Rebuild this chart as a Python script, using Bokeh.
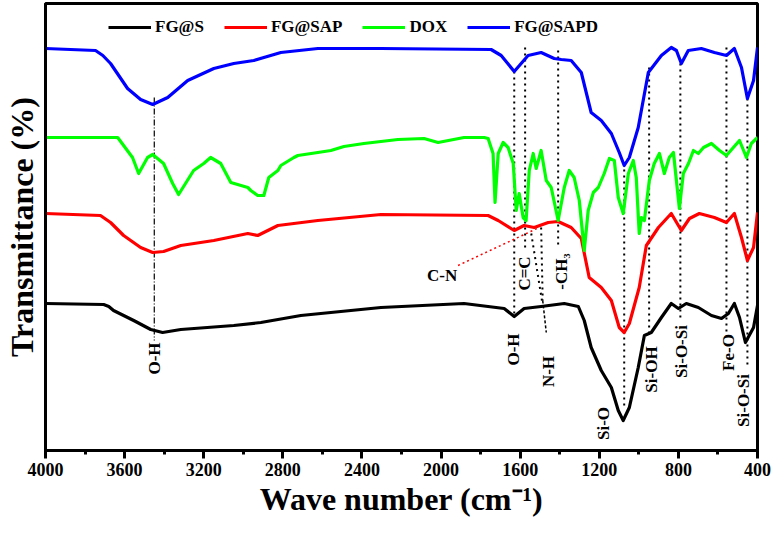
import math
from bokeh.plotting import figure
from bokeh.models import Range1d, FixedTicker, Legend, LegendItem
from bokeh.core.properties import value
from bokeh.embed import file_html
from bokeh.resources import INLINE

# ---------------- data (wave number cm-1, transmittance a.u. with vertical offsets) -------------
fgs_wn = [4000, 3706, 3680, 3656, 3554, 3468, 3408, 3316, 3048, 2911, 2709, 2456, 2304, 1884, 1681,
          1630, 1580, 1494, 1377, 1306, 1276, 1241, 1190, 1139, 1104, 1079, 1048, 1003, 972,
          937, 886, 836, 800, 760, 699, 633, 582, 547, 517, 491, 461, 420, 400]
fgs_t = [147, 146, 144, 140, 130, 121, 118, 121, 125, 128, 135, 140, 143, 147, 142,
         134, 142, 144, 147, 144, 130, 103, 80, 63, 40, 30, 43, 83, 115,
         118, 133, 147, 142, 147, 143, 135, 132, 137, 147, 133, 108, 123, 145]

fgsap_wn = [4000, 3722, 3671, 3605, 3519, 3458, 3403, 3316, 3149, 2977, 2927, 2825, 2623, 2304,
            1762, 1711, 1630, 1580, 1529, 1458, 1408, 1342, 1291, 1251, 1190, 1139, 1099, 1074,
            1048, 998, 962, 901, 836, 785, 744, 694, 618, 557, 517, 481, 451, 420, 400]
fgsap_t = [237, 235, 228, 215, 203, 198, 199, 205, 210, 217, 215, 225, 230, 236,
           235, 230, 220, 225, 223, 228, 229, 223, 212, 173, 163, 150, 123, 118,
           127, 163, 205, 223, 237, 220, 232, 237, 233, 228, 237, 213, 190, 203, 238]

dox_wn = [4000, 3635, 3560, 3529, 3484, 3458, 3403, 3357, 3327, 3251, 3200, 3165, 3114, 3063,
          2977, 2962, 2927, 2896, 2871, 2825, 2810, 2744, 2724, 2623, 2557, 2491, 2390, 2218,
          2086, 2015, 1884, 1782, 1762, 1747, 1737, 1727, 1711, 1686, 1661, 1635, 1620, 1605,
          1585, 1570, 1554, 1534, 1519, 1494, 1468, 1443, 1408, 1377, 1352, 1327, 1301, 1276,
          1256, 1230, 1205, 1175, 1149, 1124, 1104, 1079, 1053, 1028, 1013, 998, 987, 972,
          947, 922, 896, 871, 846, 825, 810, 795, 775, 749, 724, 699, 673, 633, 592, 557,
          522, 491, 456, 431, 400]
dox_t = [313, 313, 293, 277, 293, 296, 287, 267, 256, 280, 287, 293, 287, 268,
         263, 260, 255, 255, 273, 280, 285, 293, 295, 298, 300, 304, 307, 311,
         312, 308, 313, 313, 312, 303, 297, 248, 297, 308, 303, 287, 240, 257,
         233, 230, 280, 297, 282, 300, 270, 263, 230, 263, 280, 273, 250, 200,
         240, 258, 263, 277, 292, 290, 253, 237, 277, 290, 273, 217, 233, 230,
         270, 287, 297, 277, 293, 298, 270, 242, 277, 287, 300, 297, 303, 307, 300, 295,
         303, 310, 293, 307, 313]

fgsapd_wn = [4000, 3747, 3710, 3671, 3585, 3519, 3458, 3382, 3281, 3149, 3048, 2947, 2810, 2623, 2304,
             1747, 1696, 1630, 1595, 1560, 1494, 1428, 1392, 1342, 1291, 1241, 1190, 1139, 1099,
             1074, 1048, 1003, 952, 886, 836, 810, 785, 750, 684, 618, 557, 517, 481, 451, 420, 400]
fgsapd_t = [402, 400, 395, 387, 362, 351, 346, 353, 370, 382, 387, 390, 398, 402, 402,
            401, 395, 379, 387, 395, 398, 392, 391, 390, 378, 338, 330, 317, 298,
            285, 293, 323, 378, 395, 403, 400, 387, 400, 402, 398, 395, 402, 383, 352, 370, 403]

series_names = ["FG@S", "FG@SAP", "DOX", "FG@SAPD"]
series_colors = ["#000000", "#ff0000", "#00ff00", "#0000ff"]

x_ticks = [4000, 3600, 3200, 2800, 2400, 2000, 1600, 1200, 800, 400]

# band assignments: wave number, line top, line bottom
band_wn = [1630, 1575, 1408, 1074, 948, 790, 557, 451]
band_top = [379, 403, 400, 287, 383, 387, 403, 352]
band_bot = [134, 200, 203, 43, 117, 130, 117, 83]

label_text = ["O-H", "O-H", "C=C", "-CH\u2083", "N-H", "Si-O", "Si-OH", "Si-O-Si", "Fe-O", "Si-O-Si"]
label_wn = [3450, 1632, 1578, 1392, 1458, 1178, 937, 785, 547, 471]
label_t = [92, 101, 177, 179, 79, 27, 81, 99, 98, 50]

# ---------------- figure ----------------
p = figure(width=774, height=533, x_range=Range1d(4000, 400), y_range=Range1d(0, 447),
           output_backend="svg", toolbar_location=None,
           min_border_left=45, min_border_right=17, min_border_top=3, min_border_bottom=83)
p.background_fill_color = "white"
p.border_fill_color = "white"
p.xgrid.visible = False
p.ygrid.visible = False
p.outline_line_color = "black"
p.outline_line_width = 3

FONT = value("Liberation Serif")

p.xaxis.ticker = FixedTicker(ticks=x_ticks, minor_ticks=list(range(4000, 399, -200)))
p.xaxis.major_label_text_font = "Liberation Serif"
p.xaxis.major_label_text_font_style = "bold"
p.xaxis.major_label_text_font_size = "18px"
p.xaxis.major_label_text_color = "black"
p.xaxis.major_tick_in = 0
p.xaxis.major_tick_out = 8
p.xaxis.minor_tick_in = 0
p.xaxis.minor_tick_out = 4
p.xaxis.major_tick_line_width = 3
p.xaxis.minor_tick_line_width = 3
p.xaxis.axis_line_width = 3
p.xaxis.major_label_standoff = 4
p.xaxis.axis_label = "Wave number (cm\u207b\u00b9)"
p.xaxis.axis_label_text_font = "Liberation Serif"
p.xaxis.axis_label_text_font_style = "bold"
p.xaxis.axis_label_text_font_size = "32px"
p.xaxis.axis_label_text_color = "black"
p.xaxis.axis_label_standoff = 2

p.yaxis.ticker = FixedTicker(ticks=[])
p.yaxis.major_tick_out = 0
p.yaxis.major_tick_in = 0
p.yaxis.minor_tick_out = 0
p.yaxis.minor_tick_in = 0
p.yaxis.axis_line_width = 3
p.yaxis.major_label_standoff = 0
p.yaxis.axis_label = "Transmittance (%)"
p.yaxis.axis_label_text_font = "Liberation Serif"
p.yaxis.axis_label_text_font_style = "bold"
p.yaxis.axis_label_text_font_size = "32px"
p.yaxis.axis_label_text_color = "black"
p.yaxis.axis_label_standoff = 6

# annotation lines (drawn first, behind spectra)
p.segment(x0=[3450], y0=[353], x1=[3450], y1=[110], line_color="black",
          line_width=1.2, line_dash="6 2 1 2")
p.segment(x0=band_wn, y0=band_top, x1=band_wn, y1=band_bot, line_color="black",
          line_width=2, line_dash="2 4")
# N-H converging lines
p.segment(x0=[1544, 1494], y0=[217, 223], x1=[1490, 1486], y1=[150, 150],
          line_color="black", line_width=2, line_dash="2 4")
p.segment(x0=[1486], y0=[150], x1=[1468], y1=[118], line_color="black",
          line_width=1.5, line_dash="3 2")
# C-N pointer
p.segment(x0=[1914], y0=[185], x1=[1504], y1=[223], line_color="#ff0000",
          line_width=1.5, line_dash="2 3")

renderers = []
for xs, ys, c in zip([fgs_wn, fgsap_wn, dox_wn, fgsapd_wn],
                     [fgs_t, fgsap_t, dox_t, fgsapd_t], series_colors):
    r = p.line(xs, ys, line_color=c, line_width=3.2, line_join="round")
    renderers.append(r)

p.text(x=label_wn, y=label_t, text=label_text, angle=math.pi / 2,
       text_align="center", text_baseline="middle", text_font=FONT,
       text_font_style="bold", text_font_size="17px", text_color="black")
p.text(x=[1995], y=[175], text=["C-N"], text_align="center", text_baseline="middle",
       text_font=FONT, text_font_style="bold", text_font_size="17px", text_color="black")

legend = Legend(items=[LegendItem(label=n, renderers=[r]) for n, r in zip(series_names, renderers)],
                orientation="horizontal", location=(63, 413), padding=0, margin=0,
                spacing=20, glyph_width=43, glyph_height=20, label_height=20,
                label_standoff=4, border_line_alpha=0, background_fill_alpha=0,
                label_text_font="Liberation Serif", label_text_font_style="bold",
                label_text_font_size="17px", label_text_color="black")
p.add_layout(legend, "center")

open("out.html", "w").write(file_html(p, INLINE))
